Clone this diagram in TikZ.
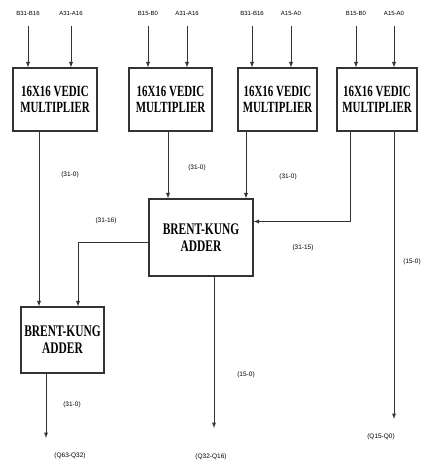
\documentclass[tikz,border=0pt]{standalone}
\usepackage{fontspec}
\usepackage{graphicx}
\setmainfont{Liberation Serif}
\newfontfamily\labelfont{Liberation Sans}
\usetikzlibrary{positioning,calc}
\colorlet{wirecol}{black!80}
\newcommand{\tallrow}[1]{\scalebox{0.95}[1.35]{#1}}

\begin{document}
\begin{tikzpicture}[x=1pt,y=-1pt,
  block/.style={rectangle, draw=wirecol, line width=1.1pt, align=center, inner sep=0pt, font=\bfseries\fontsize{11.5}{16}\selectfont},
  pin/.style={inner sep=1pt, font=\labelfont\fontsize{6}{7}\selectfont},
  bus/.style={inner sep=1pt, font=\labelfont\fontsize{6.5}{8}\selectfont},
  wire/.style={draw=wirecol, line width=0.9pt, -latex}]
\useasboundingbox (0,0) rectangle (422,468);
% Multipliers

\node[block, minimum width=84, minimum height=63] (mult1) at (55,99.5) {\tallrow{16X16 VEDIC}\\\tallrow{MULTIPLIER}};
\node[block, minimum width=83, minimum height=63] (mult2) at (170.5,99.5) {\tallrow{16X16 VEDIC}\\\tallrow{MULTIPLIER}};
\node[block, minimum width=79, minimum height=63] (mult3) at (277.5,99.5) {\tallrow{16X16 VEDIC}\\\tallrow{MULTIPLIER}};
\node[block, minimum width=80, minimum height=63] (mult4) at (377,99.5) {\tallrow{16X16 VEDIC}\\\tallrow{MULTIPLIER}};

% Adders

\node[block, minimum width=104, minimum height=77, font=\bfseries\fontsize{12}{17}\selectfont] (bkadd1) at (201,237.5) {\tallrow{BRENT-KUNG}\\\tallrow{ADDER}};
\node[block, minimum width=83, minimum height=66, font=\bfseries\fontsize{12}{17}\selectfont] (bkadd2) at (62.5,340) {\tallrow{BRENT-KUNG}\\\tallrow{ADDER}};

% Operand inputs

\node[pin] (in1b) at (28,13) {B31-B16};
\node[pin] (in1a) at (71,13) {A31-A16};
\node[pin] (in2b) at (148,13) {B15-B0};
\node[pin] (in2a) at (187,13) {A31-A16};
\node[pin] (in3b) at (252,13) {B31-B16};
\node[pin] (in3a) at (291,13) {A15-A0};
\node[pin] (in4b) at (356,13) {B15-B0};
\node[pin] (in4a) at (394,13) {A15-A0};

\foreach \p/\m in {in1b/mult1, in1a/mult1, in2b/mult2, in2a/mult2, in3b/mult3, in3a/mult3, in4b/mult4, in4a/mult4}
  \draw[wire] ([yshift=-10pt]\p.south) -- (\p.south |- \m.north);

% Product buses

\coordinate (col1) at (39,0);
\coordinate (col2) at (78,0);
\coordinate (col3) at (168,0);
\coordinate (col4) at (246,0);
\coordinate (col5) at (350,0);
\coordinate (col6) at (394,0);
\coordinate (col7) at (214,0);
\coordinate (col8) at (46,0);
\coordinate (out1) at (46,438);
\coordinate (out2) at (214,428);
\coordinate (out3) at (394,419);

\draw[wire] (mult1.south -| col1) -- (bkadd2.north -| col1);
\draw[wire] (mult2.south -| col3) -- (bkadd1.north -| col3);
\draw[wire] (mult3.south -| col4) -- (bkadd1.north -| col4);
\draw[wire] (mult4.south -| col5) |- ([yshift=16pt]bkadd1.east);
\draw[wire] (mult4.south -| col6) -- (out3);
\draw[wire] ([yshift=-5pt]bkadd1.west) -| (bkadd2.north -| col2);
\draw[wire] (bkadd1.south -| col7) -- (out2);
\draw[wire] (bkadd2.south -| col8) -- (out1);

% Bus labels

\node[bus] at (70,175) {(31-0)};
\node[bus] at (197,168) {(31-0)};
\node[bus] at (288,177) {(31-0)};
\node[bus] at (106,221) {(31-16)};
\node[bus] at (303,248) {(31-15)};
\node[bus] at (412,262) {(15-0)};
\node[bus] at (72,405) {(31-0)};
\node[bus] at (246,375) {(15-0)};
\node[bus] at (70,456) {(Q63-Q32)};
\node[bus] at (211,457) {(Q32-Q16)};
\node[bus] at (381,437) {(Q15-Q0)};
\end{tikzpicture}
\end{document}
